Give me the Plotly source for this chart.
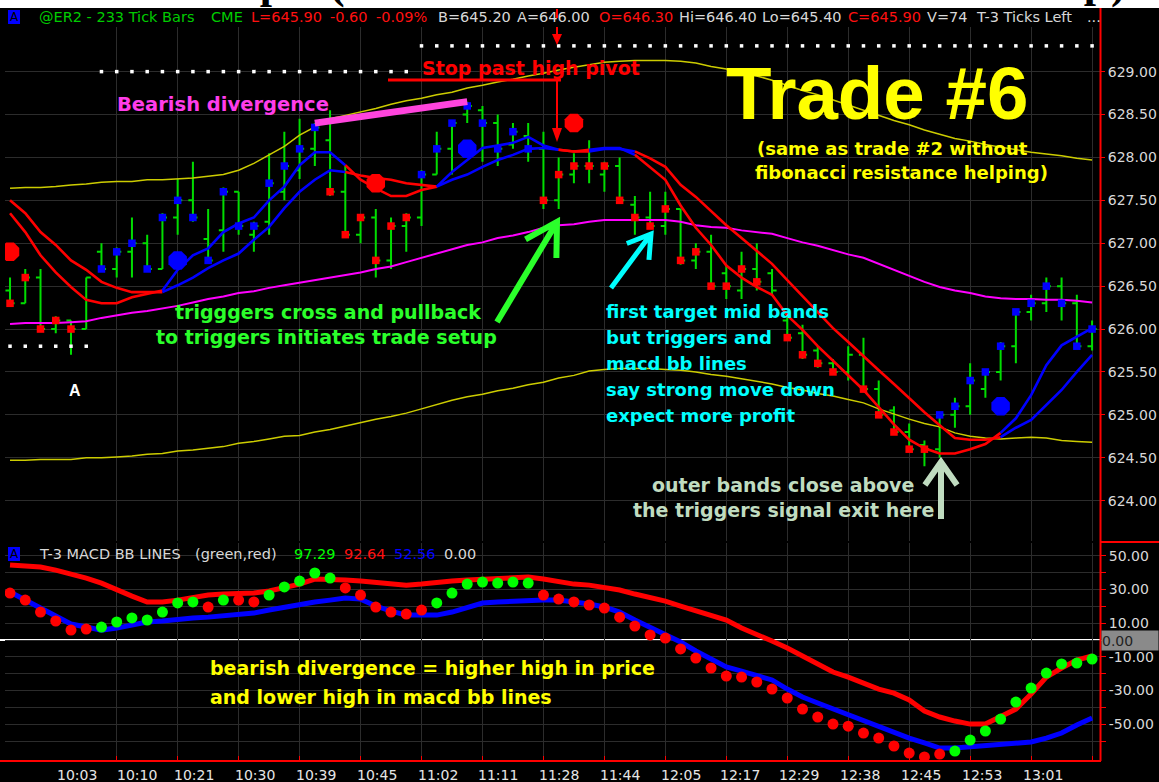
import math
import plotly.graph_objects as go

W, H = 1159, 782

# ---------------- data ----------------
bar_idx = list(range(72))
opens = [626.45, 626.30, 626.60, 626.00, 626.10, 626.00, 626.90, 626.70, 626.90, 627.00,
         626.70, 627.30, 627.50, 627.05, 627.15, 627.60, 627.10, 627.25, 627.60, 627.85,
         628.10, 628.20, 627.60, 627.10, 627.30, 626.80, 627.20, 627.30, 627.80, 628.10,
         628.50, 628.55, 628.40, 628.15, 628.25, 628.10, 627.50, 627.80, 627.90, 627.80,
         627.90, 627.45, 627.30, 627.20, 627.40, 626.80, 626.90, 626.65, 626.45, 626.70,
         626.65, 626.10, 625.95, 625.75, 625.60, 625.50, 625.70, 625.30, 625.05, 624.80,
         624.65, 624.60, 625.00, 625.10, 625.30, 625.50, 625.80, 626.20, 626.30, 626.50,
         626.30, 625.80]
highs = [626.60, 626.70, 626.70, 626.15, 626.10, 626.60, 627.00, 626.95, 627.30, 627.10,
         627.35, 627.75, 627.95, 627.40, 627.65, 627.60, 627.25, 628.05, 628.30, 628.45,
         628.40, 628.55, 627.90, 627.30, 627.40, 627.30, 627.35, 627.85, 628.30, 628.40,
         628.65, 628.60, 628.50, 628.40, 628.40, 628.30, 628.00, 628.05, 628.20, 627.95,
         628.00, 627.55, 627.60, 627.60, 627.40, 627.00, 627.10, 626.75, 626.90, 627.00,
         626.70, 626.15, 626.05, 625.80, 625.65, 625.80, 625.90, 625.40, 625.10, 624.90,
         624.70, 625.00, 625.20, 625.60, 625.50, 625.85, 626.20, 626.40, 626.60, 626.60,
         626.40, 626.10]
lows = [626.30, 626.30, 626.00, 625.95, 625.70, 626.00, 626.70, 626.60, 626.60, 626.70,
        626.70, 627.10, 627.25, 626.80, 626.90, 627.10, 626.90, 627.10, 627.50, 627.75,
        627.90, 627.55, 627.10, 627.00, 626.60, 626.70, 626.90, 627.20, 627.80, 627.80,
        628.40, 627.95, 627.90, 628.10, 627.95, 627.40, 627.40, 627.70, 627.70, 627.60,
        627.50, 627.10, 627.20, 627.10, 626.75, 626.70, 626.50, 626.35, 626.35, 626.45,
        626.40, 625.90, 625.65, 625.55, 625.50, 625.40, 625.30, 625.00, 624.80, 624.60,
        624.40, 624.50, 624.85, 625.00, 625.20, 625.40, 625.60, 626.10, 626.20, 626.10,
        625.80, 625.75]
closes = [626.30, 626.60, 626.00, 626.10, 626.00, 626.60, 626.70, 626.90, 627.00, 626.70,
          627.30, 627.50, 627.30, 626.80, 627.60, 627.20, 627.20, 627.70, 627.90, 628.10,
          628.35, 627.60, 627.10, 627.30, 626.80, 627.20, 627.30, 627.80, 628.10, 628.40,
          628.60, 628.40, 628.10, 628.30, 628.10, 627.50, 627.80, 627.90, 627.90, 627.90,
          627.50, 627.30, 627.20, 627.40, 626.80, 626.90, 626.50, 626.50, 626.70, 626.55,
          626.45, 625.90, 625.70, 625.60, 625.50, 625.70, 625.30, 625.00, 624.80, 624.60,
          624.60, 625.00, 625.10, 625.40, 625.50, 625.80, 626.20, 626.30, 626.50, 626.30,
          625.80, 626.00]
# paint-bar state per bar: b = blue, r = red, n = none
paint = list("rrrrr" "n" "bbbbb" "bbbbb" "bbbbb" "rrrrrr" "bbbbbbbb"
             "rrrrr" "rrrrr" "rrrrr" "n" "rrrr" "n" "rrrrr" "bbbbb" "bbbbb" "b")

fast_trigger = [627.35, 627.13, 626.86, 626.66, 626.49, 626.34, 626.30, 626.30, 626.37, 626.41,
                626.45, 626.69, 626.86, 626.94, 627.13, 627.23, 627.30, 627.50, 627.66, 627.91,
                628.06, 628.06, 627.91, 627.74, 627.64, 627.55, 627.55, 627.62, 627.66, 627.83,
                627.97, 628.11, 628.14, 628.17, 628.24, 628.14, 628.09, 628.07, 628.09, 628.11,
                628.11, 628.03, 627.89, 627.74, 627.44, 627.18, 626.98, 626.74, 626.60, 626.49,
                626.40, 626.16, 625.99, 625.80, 625.63, 625.46, 625.29, 625.09, 624.89, 624.71,
                624.61, 624.55, 624.55, 624.60, 624.66, 624.79, 624.96, 625.23, 625.58, 625.81,
                625.91, 626.01]
slow_trigger = [627.50, 627.35, 627.13, 626.98, 626.80, 626.69, 626.55, 626.48, 626.43, 626.43,
                626.43, 626.51, 626.60, 626.71, 626.80, 626.88, 627.04, 627.19, 627.41, 627.60,
                627.74, 627.85, 627.83, 627.79, 627.76, 627.74, 627.70, 627.68, 627.66, 627.74,
                627.80, 627.89, 627.97, 628.03, 628.10, 628.11, 628.09, 628.07, 628.07, 628.10,
                628.10, 628.07, 627.99, 627.89, 627.68, 627.54, 627.37, 627.21, 627.06, 626.91,
                626.76, 626.57, 626.38, 626.19, 626.01, 625.85, 625.68, 625.52, 625.36, 625.19,
                625.03, 624.88, 624.73, 624.71, 624.71, 624.74, 624.85, 624.94, 625.11, 625.29,
                625.50, 625.70]
trigger_state = list("rrrrrrrrrr" "bbbbbbbbbbbb" "rrrrrr" "bbbbbbbb" "rr" "bbb"
                     "rrrrrrrr" "rrrrrrrr" "rrrrrrrr" "bbbbbbb")

upper_band = [627.64, 627.65, 627.65, 627.66, 627.68, 627.69, 627.71, 627.72, 627.72, 627.74,
              627.74, 627.75, 627.76, 627.78, 627.80, 627.85, 627.93, 628.03, 628.13, 628.26,
              628.36, 628.45, 628.49, 628.53, 628.57, 628.62, 628.66, 628.69, 628.73, 628.76,
              628.81, 628.84, 628.88, 628.91, 628.95, 628.98, 629.02, 629.05, 629.08, 629.11,
              629.12, 629.13, 629.13, 629.13, 629.12, 629.10, 629.06, 629.03, 628.99, 628.95,
              628.90, 628.84, 628.78, 628.73, 628.67, 628.61, 628.55, 628.49, 628.43, 628.38,
              628.32, 628.27, 628.22, 628.19, 628.15, 628.12, 628.09, 628.06, 628.04, 628.02,
              627.99, 627.97]
mid_band = [626.06, 626.07, 626.07, 626.07, 626.08, 626.09, 626.13, 626.16, 626.19, 626.21,
            626.24, 626.27, 626.31, 626.35, 626.38, 626.42, 626.44, 626.48, 626.51, 626.54,
            626.57, 626.60, 626.63, 626.66, 626.70, 626.73, 626.78, 626.83, 626.88, 626.93,
            626.98, 627.01, 627.06, 627.09, 627.13, 627.18, 627.21, 627.22, 627.25, 627.27,
            627.27, 627.27, 627.27, 627.27, 627.25, 627.21, 627.19, 627.18, 627.15, 627.13,
            627.11, 627.06, 627.01, 626.97, 626.92, 626.87, 626.83, 626.76, 626.69, 626.62,
            626.55, 626.49, 626.45, 626.42, 626.38, 626.36, 626.35, 626.35, 626.34, 626.34,
            626.33, 626.31]
lower_band = [624.47, 624.47, 624.48, 624.48, 624.48, 624.50, 624.50, 624.51, 624.52, 624.54,
              624.55, 624.58, 624.59, 624.61, 624.63, 624.67, 624.69, 624.72, 624.75, 624.76,
              624.80, 624.83, 624.87, 624.91, 624.95, 624.98, 625.02, 625.07, 625.12, 625.17,
              625.21, 625.24, 625.28, 625.31, 625.35, 625.38, 625.43, 625.46, 625.51, 625.53,
              625.54, 625.54, 625.54, 625.53, 625.52, 625.50, 625.47, 625.45, 625.42, 625.39,
              625.36, 625.32, 625.29, 625.25, 625.22, 625.18, 625.14, 625.07, 625.01, 624.95,
              624.90, 624.86, 624.79, 624.75, 624.73, 624.72, 624.73, 624.74, 624.73, 624.70,
              624.69, 624.68]

# pivot dotted levels
pivot_low_bars = [0, 1, 2, 3, 4, 5]
pivot_low_level = 625.80
pivot_high1_bars = list(range(6, 27))
pivot_high1_level = 629.00
pivot_high2_bars = list(range(27, 72))
pivot_high2_level = 629.30

# signal dots
sig_up_bars = [11, 30, 65]
sig_up_price = [626.80, 628.10, 625.10]
sig_dn_bars = [0, 24, 37]
sig_dn_price = [626.90, 627.70, 628.40]

# MACD BB lines panel
macd_red = [44.5, 43.9, 43.3, 41.5, 39.2, 36.8, 33.8, 29.7, 26.1, 22.6,
            22.6, 23.7, 25.5, 26.7, 27.3, 27.3, 27.9, 29.1, 30.9, 33.2,
            36.2, 36.2, 35.6, 35.0, 34.4, 33.2, 32.6, 33.2, 34.4, 35.0,
            35.6, 36.2, 36.8, 37.4, 37.4, 36.2, 34.4, 33.2, 32.6, 31.5,
            29.7, 27.3, 25.5, 23.1, 20.2, 17.2, 14.2, 11.9, 7.1, 3.6,
            -0.6, -4.7, -9.5, -14.2, -19.0, -22.0, -25.5, -29.1, -31.5, -35.6,
            -42.1, -45.7, -48.1, -49.9, -49.9, -45.7, -41.0, -32.0, -22.0, -16.6,
            -11.9, -9.5]
macd_blue = [28.5, 23.7, 19.0, 14.2, 9.5, 7.7, 5.9, 7.1, 8.9, 10.7,
             11.3, 12.5, 13.1, 13.6, 14.2, 14.8, 16.0, 17.8, 19.6, 20.8,
             22.6, 23.7, 24.9, 24.3, 20.2, 17.2, 14.8, 14.8, 14.8, 16.6,
             19.6, 22.0, 22.6, 23.1, 23.7, 23.7, 23.7, 22.6, 21.4, 19.6,
             16.6, 11.9, 7.7, 3.0, -1.2, -6.5, -11.3, -16.0, -18.4, -20.8,
             -23.7, -29.1, -33.8, -37.4, -41.0, -44.5, -48.1, -51.7, -55.2, -58.2,
             -61.1, -64.1, -64.1, -63.5, -62.9, -61.7, -61.1, -60.5, -58.2, -55.2,
             -50.4, -46.3]
macd_dots = [27.9, 23.7, 16.6, 11.3, 5.9, 6.5, 7.7, 10.7, 13.1, 11.9,
             16.6, 22.0, 22.6, 19.6, 23.7, 23.7, 22.6, 26.7, 31.5, 35.0,
             39.8, 36.8, 30.9, 26.7, 19.6, 16.6, 15.4, 17.8, 22.0, 27.9,
             33.2, 34.4, 33.8, 34.4, 33.8, 26.7, 24.3, 22.6, 20.8, 19.0,
             13.6, 8.3, 3.0, 1.2, -5.3, -10.7, -16.6, -21.4, -22.0, -24.9,
             -29.1, -34.4, -41.0, -45.7, -49.9, -51.1, -55.2, -58.2, -62.9, -67.1,
             -69.4, -67.7, -65.9, -59.4, -54.0, -46.9, -36.8, -28.5, -19.6, -14.2,
             -13.7, -11.3]
macd_dot_state = list("rrrrrr" "ggggggg" "r" "g" "rr" "ggggg" "rrrrrr" "ggggggg"
                      "rrrrr" "rrrrr" "rrrrr" "rrrrr" "rrrrr" "rr" "ggggg" "ggggg")

time_labels = ["10:03", "10:10", "10:21", "10:30", "10:39", "10:45", "11:02", "11:11", "11:28",
               "11:44", "12:05", "12:17", "12:29", "12:38", "12:45", "12:53", "13:01"]
time_label_bars = [4.4, 8.3, 12.1, 16.1, 20.1, 24.1, 28.1, 32.0, 36.0,
                   40.0, 44.0, 47.9, 51.8, 55.8, 59.8, 63.8, 67.8]
grid_bars = [7, 11, 15, 19, 23, 27, 31, 35, 39, 43, 47, 51, 55, 59, 63, 67, 71]
price_ticks = [624.0, 624.5, 625.0, 625.5, 626.0, 626.5, 627.0, 627.5, 628.0, 628.5, 629.0]
price_tick_labels = ["624.00", "624.50", "625.00", "625.50", "626.00", "626.50",
                     "627.00", "627.50", "628.00", "628.50", "629.00"]
macd_ticks = [50, 30, 10, -10, -30, -50]
macd_tick_labels = ["50.00", "30.00", "10.00", "-10.00", "-30.00", "-50.00"]
macd_minor_ticks = [40, 20, 0, -20, -40, -60]

# ---------------- styling ----------------
RED = "#ff0000"
BLUE = "#0000ff"
BARG = "#00dd00"
YEL_BAND = "#cccc00"
MAG = "#ff00ff"
GRID = "#2c2c2c"
LBL = "#d8d8d8"


def X(px):
    return px / W


def Y(py):
    return 1 - py / H


fig = go.Figure()

# bands
for band, col, wd in ((upper_band, YEL_BAND, 1.5), (lower_band, YEL_BAND, 1.5), (mid_band, MAG, 2)):
    fig.add_trace(go.Scatter(x=bar_idx, y=band, mode="lines", line=dict(color=col, width=wd),
                             xaxis="x", yaxis="y", hoverinfo="skip"))

# price bars
fig.add_trace(go.Ohlc(x=bar_idx, open=opens, high=highs, low=lows, close=closes,
                      increasing=dict(line=dict(color=BARG, width=2)),
                      decreasing=dict(line=dict(color=BARG, width=2)),
                      tickwidth=0.3, xaxis="x", yaxis="y", hoverinfo="skip"))

# paint squares on the close
for st, col in (("b", BLUE), ("r", RED)):
    xs = [i for i in bar_idx if paint[i] == st]
    ys = [closes[i] for i in bar_idx if paint[i] == st]
    fig.add_trace(go.Scatter(x=xs, y=ys, mode="markers",
                             marker=dict(symbol="square", size=7.5, color=col, line=dict(width=0)),
                             xaxis="x", yaxis="y", hoverinfo="skip"))


def runs(states):
    out, s = [], 0
    for i in range(1, len(states) + 1):
        if i == len(states) or states[i] != states[s]:
            out.append((s, i - 1, states[s]))
            s = i
    return out


# trigger lines, coloured by state
for a, b, st in runs(trigger_state):
    e = min(b + 1, len(bar_idx) - 1)
    idx = list(range(a, e + 1))
    col = RED if st == "r" else BLUE
    for series in (slow_trigger, fast_trigger):
        fig.add_trace(go.Scatter(x=[bar_idx[i] for i in idx], y=[series[i] for i in idx],
                                 mode="lines", line=dict(color=col, width=2.6),
                                 xaxis="x", yaxis="y", hoverinfo="skip"))

# pivot dotted levels
for bars, lvl in ((pivot_low_bars, pivot_low_level), (pivot_high1_bars, pivot_high1_level),
                  (pivot_high2_bars, pivot_high2_level)):
    fig.add_trace(go.Scatter(x=bars, y=[lvl] * len(bars), mode="markers",
                             marker=dict(symbol="square", size=3.5, color="#ffffff"),
                             xaxis="x", yaxis="y", hoverinfo="skip"))

# signal dots
fig.add_trace(go.Scatter(x=sig_up_bars, y=sig_up_price, mode="markers",
                         marker=dict(symbol="octagon", size=20, color=BLUE, line=dict(width=0)),
                         xaxis="x", yaxis="y", hoverinfo="skip"))
fig.add_trace(go.Scatter(x=sig_dn_bars, y=sig_dn_price, mode="markers",
                         marker=dict(symbol="octagon", size=20, color=RED, line=dict(width=0)),
                         xaxis="x", yaxis="y", hoverinfo="skip"))

# MACD panel
fig.add_trace(go.Scatter(x=bar_idx, y=macd_blue, mode="lines", line=dict(color=BLUE, width=5),
                         xaxis="x", yaxis="y2", hoverinfo="skip"))
fig.add_trace(go.Scatter(x=bar_idx, y=macd_red, mode="lines", line=dict(color=RED, width=5),
                         xaxis="x", yaxis="y2", hoverinfo="skip"))
for st, col in (("r", RED), ("g", "#00ff00")):
    xs = [i for i in bar_idx if macd_dot_state[i] == st]
    ys = [macd_dots[i] for i in bar_idx if macd_dot_state[i] == st]
    fig.add_trace(go.Scatter(x=xs, y=ys, mode="markers",
                             marker=dict(symbol="circle", size=11, color=col, line=dict(width=0)),
                             xaxis="x", yaxis="y2", hoverinfo="skip"))

# ---------------- shapes ----------------
shapes = []
# white strip at very top
shapes.append(dict(type="rect", xref="paper", yref="paper", x0=0, x1=1, y0=Y(8), y1=1,
                   fillcolor="#ffffff", line=dict(width=0), layer="above"))
# right axis red line and bottom red line
shapes.append(dict(type="line", xref="paper", yref="paper", x0=X(1100.5), x1=X(1100.5),
                   y0=Y(8), y1=Y(761), line=dict(color=RED, width=2), layer="above"))
shapes.append(dict(type="line", xref="paper", yref="paper", x0=0, x1=X(1101),
                   y0=Y(761), y1=Y(761), line=dict(color=RED, width=2), layer="above"))
shapes.append(dict(type="line", xref="paper", yref="paper", x0=X(1100), x1=1,
                   y0=Y(542), y1=Y(542), line=dict(color=RED, width=2), layer="above"))
# zero line in MACD panel
shapes.append(dict(type="line", xref="paper", yref="y2", x0=0, x1=X(1100), y0=0, y1=0,
                   line=dict(color="#ffffff", width=2), layer="between"))
# bearish divergence line over the highs
shapes.append(dict(type="line", xref="x", yref="y", x0=20, x1=30, y0=highs[20], y1=highs[30],
                   line=dict(color="#ff44dd", width=7), layer="above"))
# stop line
shapes.append(dict(type="line", xref="paper", yref="paper", x0=X(388), x1=X(561), y0=Y(80), y1=Y(80),
                   line=dict(color=RED, width=3), layer="above"))
# red arrows down
shapes.append(dict(type="line", xref="paper", yref="paper", x0=X(557), x1=X(557), y0=Y(9), y1=Y(36),
                   line=dict(color=RED, width=2, dash="dash"), layer="above"))
shapes.append(dict(type="line", xref="paper", yref="paper", x0=X(557), x1=X(557), y0=Y(80), y1=Y(130),
                   line=dict(color=RED, width=2), layer="above"))


def tri(tipx, tipy, basey, half):
    return dict(type="path", xref="paper", yref="paper",
                path=f"M {X(tipx - half)},{Y(basey)} L {X(tipx + half)},{Y(basey)} L {X(tipx)},{Y(tipy)} Z",
                fillcolor=RED, line=dict(width=0), layer="above")


shapes.append(tri(557, 45, 34, 5))
shapes.append(tri(557, 142, 128, 5))


def vee(tail, tip, color, width, arm, ang):
    tx, ty = tail
    hx, hy = tip
    dx, dy = tx - hx, ty - hy
    L = math.hypot(dx, dy)
    ux, uy = dx / L, dy / L
    a = math.radians(ang)
    r1 = (ux * math.cos(a) - uy * math.sin(a), ux * math.sin(a) + uy * math.cos(a))
    r2 = (ux * math.cos(a) + uy * math.sin(a), -ux * math.sin(a) + uy * math.cos(a))
    p1 = (hx + arm * r1[0], hy + arm * r1[1])
    p2 = (hx + arm * r2[0], hy + arm * r2[1])
    path = (f"M {X(tx)},{Y(ty)} L {X(hx)},{Y(hy)} "
            f"M {X(p1[0])},{Y(p1[1])} L {X(hx)},{Y(hy)} L {X(p2[0])},{Y(p2[1])}")
    return dict(type="path", xref="paper", yref="paper", path=path,
                line=dict(color=color, width=width), layer="above")


shapes.append(vee((497, 322), (557, 222), "#2bff2b", 6, 36, 30))
shapes.append(vee((611, 288), (651, 234), "#00ffff", 5, 26, 32))
shapes.append(vee((941, 519), (941, 462), "#c0dcc0", 6, 28, 35))

# "A" boxes
for y0 in (10, 547):
    shapes.append(dict(type="rect", xref="paper", yref="paper", x0=X(8), x1=X(20), y0=Y(y0 + 14), y1=Y(y0),
                       fillcolor="#0000ff", line=dict(width=0), layer="above"))

# ---------------- annotations ----------------
ann = []


def txt(x, y, s, color, size, xanchor="left", family="DejaVu Sans", weight="bold"):
    ann.append(dict(x=X(x), y=Y(y), xref="paper", yref="paper", text=s, showarrow=False,
                    xanchor=xanchor, yanchor="middle",
                    font=dict(family=family, size=size, color=color, weight=weight)))


# cut-off slide title at top (only the bottoms of its glyphs show)
for s, xr in (("Trade #6 Setup", 286), ("(", 347),
              ("Short Trade at Resistance Setup", 1110), (")", 1128)):
    ann.append(dict(x=X(xr), y=Y(9.5), xref="paper", yref="paper", text=s, showarrow=False,
                    xanchor="right", yanchor="bottom",
                    font=dict(family="Liberation Serif", size=44, color="#000000", weight="bold")))

# header of price panel
hdr = [("@ER2 - 233 Tick Bars", 37, "#00cc00"), ("CME", 209, "#00cc00"),
       ("L=645.90", 249, "#ff1010"), ("-0.60", 328, "#ff1010"), ("-0.09%", 374, "#ff1010"),
       ("B=645.20", 436, LBL), ("A=646.00", 515, LBL), ("O=646.30", 597, "#ff1010"),
       ("Hi=646.40", 677, LBL), ("Lo=645.40", 760, LBL), ("C=645.90", 846, "#ff1010"),
       ("V=74", 925, LBL), ("T-3 Ticks Left", 974, LBL), ("...", 1085, LBL)]
for s, x, c in hdr:
    txt(x, 17, s, c, 14.5, weight="normal")
txt(14, 17, "A", "#000000", 12, xanchor="center", weight="normal")

# header of MACD panel
mh = [("T-3 MACD BB LINES", 37, LBL), ("(green,red)", 193, LBL),
      ("97.29", 292, "#00ff00"), ("92.64", 342, "#ff1010"), ("52.56", 392, "#0000ff"),
      ("0.00", 442, LBL)]
for s, x, c in mh:
    txt(x, 554, s, c, 14.5, weight="normal")
txt(14, 554, "A", "#000000", 12, xanchor="center", weight="normal")

txt(115, 104, "Bearish divergence", "#ff3dea", 19.5)
txt(420, 68, "Stop past high pivot", RED, 19)
txt(877, 94, "Trade #6", "#ffff00", 74.5, xanchor="center", family="Liberation Sans")
txt(755, 148, "(same as trade #2 without", "#ffff00", 18)
txt(753, 173, "fibonacci resistance helping)", "#ffff00", 18)
txt(328, 312, "trigggers cross and pullback", "#2bff2b", 19, xanchor="center")
txt(327, 337, "to triggers initiates trade setup", "#2bff2b", 19, xanchor="center")
for i, s in enumerate(["first target mid bands", "but triggers and", "macd bb lines",
                       "say strong move down", "expect more profit"]):
    txt(604, 311 + 26 * i, s, "#00ffff", 18)
txt(783, 485, "outer bands close above", "#c0dcc0", 19, xanchor="center")
txt(783, 510, "the triggers signal exit here", "#c0dcc0", 19, xanchor="center")
txt(75, 390, "A", "#ffffff", 16, xanchor="center", family="Liberation Sans")
txt(208, 668, "bearish divergence = higher high in price", "#ffff00", 19)
txt(208, 697, "and lower high in macd bb lines", "#ffff00", 19)

# time labels
for b, s in zip(time_label_bars, time_labels):
    ann.append(dict(x=b, y=Y(775), xref="x", yref="paper", text=s, showarrow=False,
                    xanchor="center", yanchor="middle",
                    font=dict(family="DejaVu Sans", size=14, color="#e6e6e6")))

# current value box on MACD axis
ann.append(dict(x=X(1101), y=0, xref="paper", yref="y2", text="0.00", showarrow=False,
                xanchor="left", yanchor="middle", width=56, height=19, align="left",
                bgcolor="#8a8a8a", borderpad=0,
                font=dict(family="DejaVu Sans", size=14, color="#222222")))

fig.update_layout(
    width=W, height=H, margin=dict(l=0, r=0, t=0, b=0),
    paper_bgcolor="#000000", plot_bgcolor="#000000", showlegend=False,
    xaxis=dict(domain=[X(5), X(1100)], range=[-0.33, 71.52], anchor="y2",
               tickvals=grid_bars, showticklabels=False, ticks="inside", ticklen=5,
               tickcolor=RED, showgrid=True, gridcolor=GRID, gridwidth=1, zeroline=False,
               showline=False, rangeslider=dict(visible=False), fixedrange=True),
    yaxis=dict(domain=[Y(541), Y(27)], range=[623.53, 629.52], side="right", anchor="x",
               tickvals=price_ticks, ticktext=price_tick_labels, ticks="outside", ticklen=4,
               tickcolor=RED, showgrid=True, gridcolor=GRID, zeroline=False, showline=False,
               tickfont=dict(family="DejaVu Sans", size=14, color=LBL)),
    yaxis2=dict(domain=[Y(761), Y(543)], range=[-71.8, 57.6], side="right", anchor="x",
                tickvals=macd_ticks, ticktext=macd_tick_labels, ticks="outside", ticklen=5,
                tickcolor=RED, showgrid=True, gridcolor=GRID, zeroline=False, showline=False,
                tickfont=dict(family="DejaVu Sans", size=14, color=LBL),
                minor=dict(tickvals=macd_minor_ticks, ticks="outside", ticklen=5, tickcolor=RED,
                           showgrid=True, gridcolor=GRID)),
    shapes=shapes, annotations=ann,
)

fig.write_html("out.html", config={"displayModeBar": False},
               post_script="document.body.style.margin='0px';document.body.style.overflow='hidden';")
